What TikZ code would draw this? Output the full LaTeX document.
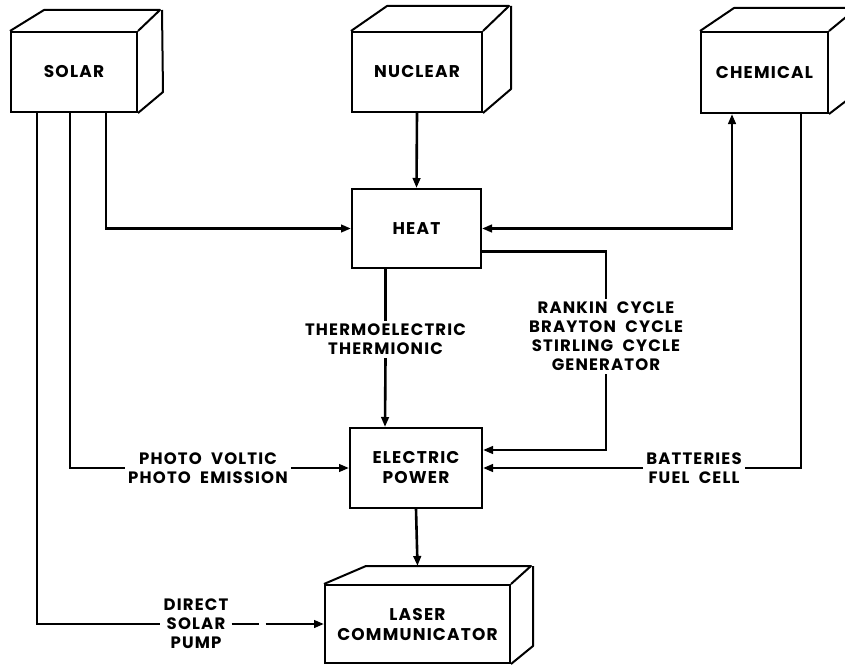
\documentclass[tikz,border=0pt]{standalone}
\usepackage{fontspec}
\setmainfont{Poppins}[LetterSpace=7,WordSpace=2]
\usetikzlibrary{arrows.meta,calc}
\begin{document}
\begin{tikzpicture}[x=1pt,y=-1pt,
  conn/.style={line width=2.6pt},
  tip/.tip={Triangle[length=10pt,width=7.5pt]},
  arr/.style={-tip},
  edge3d/.style={line width=2pt,line join=round},
  face/.style={draw,line width=2pt,inner sep=0pt,align=center,font=\fontsize{17}{20}\selectfont\bfseries},
  lbl/.style={align=center,inner sep=3pt,font=\fontsize{16.5}{19}\selectfont\bfseries}
]
\clip (0,0) rectangle (845,666);
\fill[white] (0,0) rectangle (845,666);
% front faces
\node[face,minimum width=126pt,minimum height=80pt] (solar) at (74,72) {SOLAR};
\node[face,minimum width=130pt,minimum height=80pt] (nuclear) at (417,72) {NUCLEAR};
\node[face,minimum width=127pt,minimum height=81pt] (chemical) at (764.5,72.5) {CHEMICAL};
\node[face,minimum width=129pt,minimum height=79pt] (heat) at (416.5,228.5) {HEAT};
\node[face,minimum width=132pt,minimum height=80pt] (ep) at (416,468) {ELECTRIC\\POWER};
\node[face,minimum width=185pt,minimum height=78pt] (laser) at (417.5,624) {LASER\\COMMUNICATOR};
% 3D faces
\draw[edge3d] (solar.north west) -- ++(34,-21) -- ++(116,0) -- (solar.north east);
\draw[edge3d] ($(solar.north east)+(24,-21)$) -- ++(1,82) -- (solar.south east);
\draw[edge3d] (nuclear.north west) -- ++(36,-25) -- ++(122,0) -- (nuclear.north east);
\draw[edge3d] ($(nuclear.north east)+(28,-25)$) -- ++(0,83) -- (nuclear.south east);
\draw[edge3d] (chemical.north west) -- ++(34,-23) -- ++(123,0) -- (chemical.north east);
\draw[edge3d] ($(chemical.north east)+(30,-23)$) -- ++(0,83) -- (chemical.south east);
\draw[edge3d] (laser.north west) -- ++(42,-18) -- ++(165,0) -- (laser.north east);
\draw[edge3d] ($(laser.north east)+(22,-18)$) -- ++(0,80) -- (laser.south east);
% labels
\node[lbl] (thermo) at (385.5,339.5) {THERMOELECTRIC\\THERMIONIC};
\node[lbl] (rankin) at (606,336.5) {RANKIN CYCLE\\BRAYTON CYCLE\\STIRLING CYCLE\\GENERATOR};
\node[lbl] (photo) at (208,468) {PHOTO VOLTIC\\PHOTO EMISSION};
\node[lbl] (batt) at (694,468) {BATTERIES\\FUEL CELL};
\node[lbl] (direct) at (196,624) {DIRECT\\SOLAR\\PUMP};
% connectors
\draw[conn,arr] (nuclear.south) -- (heat.north);
\draw[conn,arr] ([xshift=96pt]solar.south west) |- (heat.west);
\draw[conn,tip-tip] ([xshift=32pt]chemical.south west) |- (heat.east);
\draw[conn] ([yshift=-23pt]heat.east) -| (rankin.north);
\draw[conn,arr] (rankin.south) |- ([yshift=18pt]ep.east);
\draw[conn] ([xshift=-31pt]heat.south) -- (thermo.north);
\draw[conn,arr] (thermo.south) -- ([xshift=-31pt]ep.north);
\draw[conn] ([xshift=60pt]solar.south west) |- (photo.west);
\draw[conn,arr] (photo.east) -- (ep.west);
\draw[conn] ([xshift=101pt]chemical.south west) |- (batt.east);
\draw[conn,arr] (batt.west) -- (ep.east);
\draw[conn] ([xshift=27pt]solar.south west) |- (direct.west);
\draw[conn,arr,dash pattern=on 27pt off 7pt on 200pt] (direct.east) -- (laser.west);
\draw[conn,arr] (ep.south) -- ([yshift=18pt]laser.north);
\end{tikzpicture}
\end{document}
